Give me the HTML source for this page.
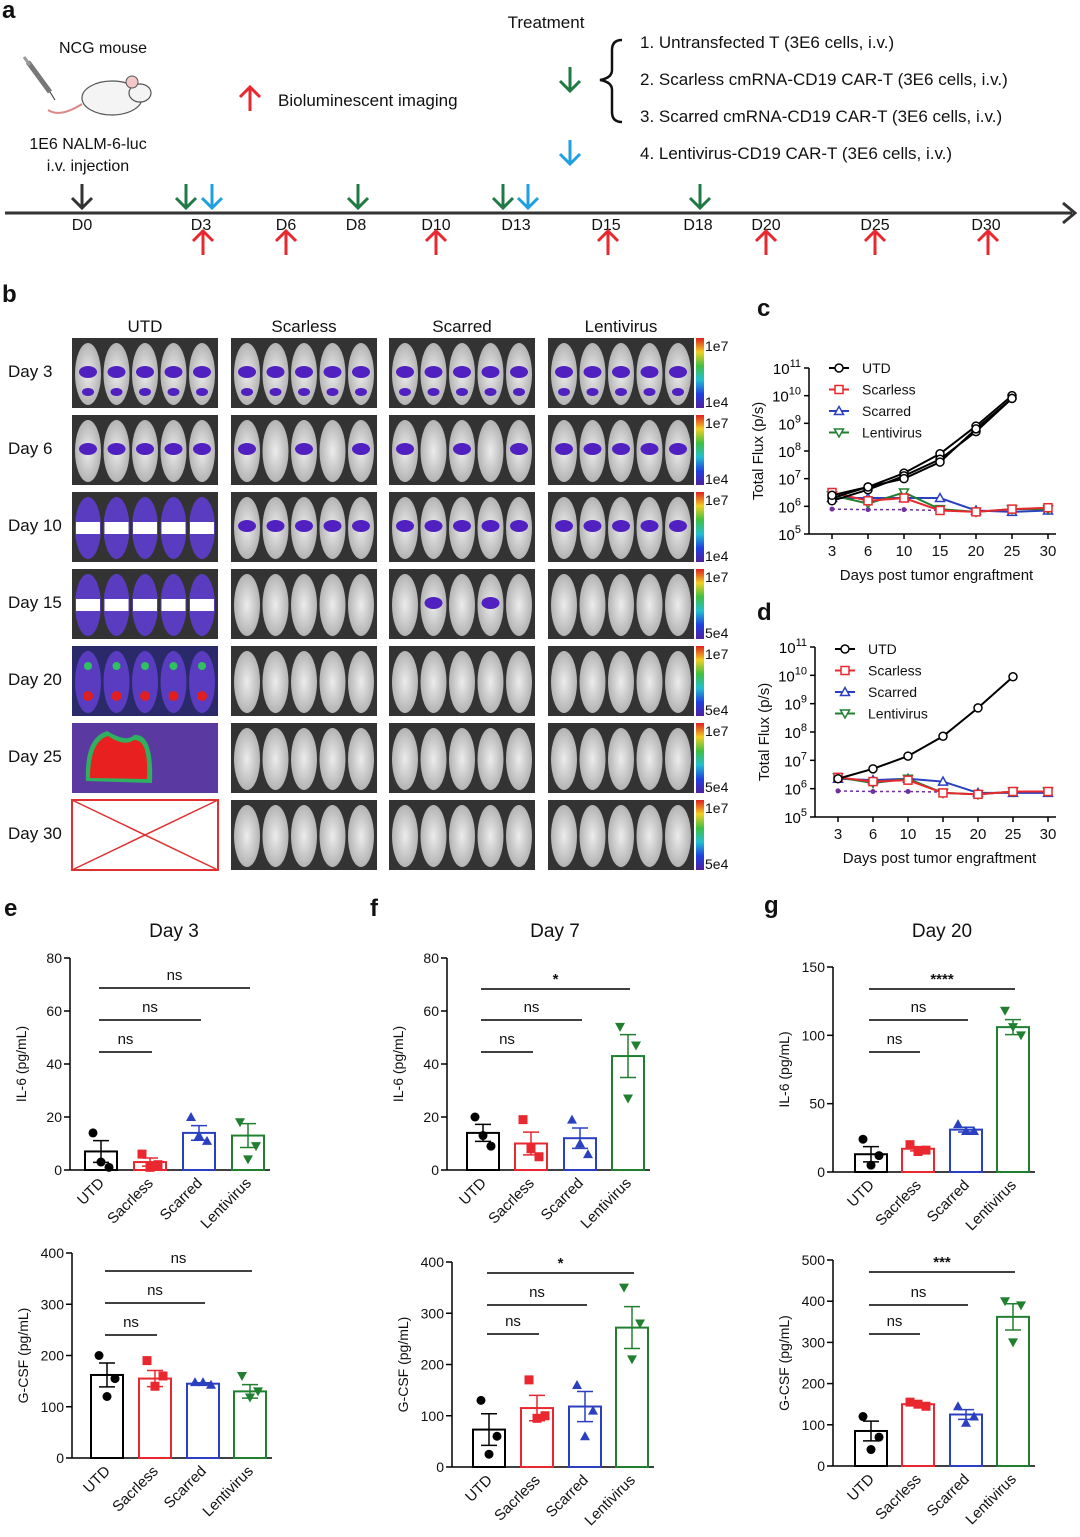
<!DOCTYPE html>
<html><head><meta charset="utf-8"><style>
html,body{margin:0;padding:0;background:#fff;}
svg{display:block;font-family:"Liberation Sans",sans-serif;}
</style></head><body>
<svg id="fig" width="1080" height="1537" viewBox="0 0 1080 1537" xmlns="http://www.w3.org/2000/svg">
<defs>
<linearGradient id="cbar" x1="0" y1="0" x2="0" y2="1">
<stop offset="0" stop-color="#e02020"/><stop offset="0.2" stop-color="#f0d020"/><stop offset="0.4" stop-color="#40c040"/><stop offset="0.6" stop-color="#20c0d0"/><stop offset="0.8" stop-color="#2040e0"/><stop offset="1" stop-color="#5020a0"/>
</linearGradient>
<radialGradient id="mouseg" cx="0.5" cy="0.5" r="0.6"><stop offset="0" stop-color="#ececec"/><stop offset="1" stop-color="#a8a8a8"/></radialGradient>
</defs>
</svg>
<script>
// ---------- data ----------
const days=["3","6","10","15","20","25","30"];
const utdC1=[6.3,6.7,7.2,7.9,8.9,10.0];
const utdC2=[6.2,6.6,7.1,7.7,8.7,9.9];
const utdC3=[6.4,6.7,7.0,7.6,8.8,9.9];
const scarlessC=[6.5,6.2,6.3,5.85,5.8,5.9,5.95];
const scarredC=[6.3,6.3,6.3,6.3,5.85,5.8,5.85];
const lentiC=[6.4,6.1,6.5,5.9,5.8,5.9,5.9];
const baseC=[5.9,5.88,5.88,5.85];
const utdD=[6.35,6.7,7.15,7.85,8.85,9.95];
const scarlessD=[6.4,6.25,6.3,5.85,5.8,5.9,5.9];
const scarredD=[6.35,6.3,6.35,6.25,5.85,5.85,5.85];
const lentiD=[6.4,6.2,6.35,5.85,5.8,5.9,5.9];
const baseD=[5.92,5.9,5.9,5.88];
const groups=["UTD","Sacrless","Scarred","Lentivirus"];
const eIL6=[7,3,14,13], eIL6pts=[[14,1,3],[6,2,1],[20,11,13],[18,9,4]];
const eGCSF=[162,155,145,130], eGCSFpts=[[200,155,120],[190,160,140],[148,143,148],[160,130,118]];
const fIL6=[14,10,12,43], fIL6pts=[[20,9,13],[19,5,8],[19,6,10],[54,47,27]];
const fGCSF=[73,115,118,272], fGCSFpts=[[130,60,25],[170,100,95],[160,110,60],[350,280,210]];
const gIL6=[13,17,31,106], gIL6pts=[[24,12,5],[20,16,15],[35,30,30],[118,100,106]];
const gGCSF=[85,150,125,362], gGCSFpts=[[120,70,40],[155,145,150],[145,120,105],[400,390,300]];

const S=document.getElementById('fig');
const NS="http://www.w3.org/2000/svg";
function mk(tag,at,parent){const e=document.createElementNS(NS,tag);for(const k in at)e.setAttribute(k,at[k]);(parent||S).appendChild(e);return e;}
function tx(x,y,s,size,anchor,extra){const e=mk('text',Object.assign({x:x,y:y,'font-size':size||16,'text-anchor':anchor||'start',fill:'#111'},extra||{}));e.textContent=s;return e;}

// ---------- panel labels ----------
[["a",2,18],["b",2,302],["c",757,316],["d",757,620],["e",4,916],["f",370,916],["g",764,913]].forEach(p=>{
 const t=tx(p[1],p[2],p[0],24,'start',{'font-weight':'bold'});
 
 
});

// ---------- panel a: timeline ----------
let t;
t=tx(103,53,"NCG mouse",16,'middle');
t=tx(88,149,"1E6 NALM-6-luc",16,'middle');
t=tx(88,171,"i.v. injection",16,'middle');
let mi=mk('g',{});
mk('ellipse',{cx:112,cy:98,rx:30,ry:17,fill:'#f4f4f4',stroke:'#555','stroke-width':1.2},mi);
mk('ellipse',{cx:140,cy:93,rx:11,ry:9,fill:'#f4f4f4',stroke:'#555','stroke-width':1.2},mi);
mk('circle',{cx:132,cy:82,r:6,fill:'#f4c8c8',stroke:'#555'},mi);
mk('path',{d:'M82 104 Q60 118 48 110',fill:'none',stroke:'#d88','stroke-width':2},mi);
mk('line',{x1:28,y1:62,x2:50,y2:92,stroke:'#777','stroke-width':5},mi);
mk('line',{x1:24,y1:57,x2:30,y2:65,stroke:'#999','stroke-width':3},mi);
mk('line',{x1:50,y1:92,x2:55,y2:100,stroke:'#333','stroke-width':1},mi);
function upArrow(x,y,col,name){const g=mk('g',{});
 mk('line',{x1:x,y1:y,x2:x,y2:y+24,stroke:col,'stroke-width':3},g);mk('path',{d:`M${x-10} ${y+10} L${x} ${y} L${x+10} ${y+10}`,fill:'none',stroke:col,'stroke-width':3},g);return g;}
function downArrow(x,y,col,name){const g=mk('g',{});
 mk('line',{x1:x,y1:y,x2:x,y2:y+24,stroke:col,'stroke-width':3},g);mk('path',{d:`M${x-10} ${y+14} L${x} ${y+24} L${x+10} ${y+14}`,fill:'none',stroke:col,'stroke-width':3},g);return g;}
upArrow(250,87,'#e8282e','imaging-arrow-legend');
t=tx(278,106,"Bioluminescent imaging",17);
t=tx(546,28,"Treatment",17,'middle');
downArrow(570,67,'#1f7a44','treatment-arrow-green');
downArrow(570,140,'#1fa0e0','treatment-arrow-blue');
let br=mk('path',{d:'M622 40 Q612 40 612 50 L612 70 Q612 78 600 80 Q612 82 612 90 L612 112 Q612 122 622 122',fill:'none',stroke:'#111','stroke-width':2.5});

["1. Untransfected T (3E6 cells, i.v.)","2. Scarless cmRNA-CD19 CAR-T (3E6 cells, i.v.)","3. Scarred cmRNA-CD19 CAR-T (3E6 cells, i.v.)","4. Lentivirus-CD19 CAR-T (3E6 cells, i.v.)"].forEach((s,i)=>{
 const e=tx(640,[48,85,122,159][i],s,17);});
let ax=mk('line',{x1:5,y1:213,x2:1072,y2:213,stroke:'#333','stroke-width':3});
let ah=mk('path',{d:'M1063 203 L1075 213 L1063 223',fill:'none',stroke:'#333','stroke-width':3});
const tlDays=["D0","D3","D6","D8","D10","D13","D15","D18","D20","D25","D30"];
const tlX=[82,201,286,356,436,516,606,698,766,875,986];
tlDays.forEach((d,i)=>{const e=tx(tlX[i],230,d,16,'middle');});
downArrow(82,184,'#333','injection-arrow');
[[186,'#1f7a44'],[212,'#1fa0e0'],[358,'#1f7a44'],[503,'#1f7a44'],[528,'#1fa0e0'],[700,'#1f7a44']].forEach((a,i)=>downArrow(a[0],184,a[1],'dose-arrow-'+i));
[203,286,436,608,766,875,988].forEach((x,i)=>upArrow(x,231,'#e8282e','imaging-arrow-'+i));

// ---------- panel b: imaging grid ----------
const colX=[72,231,389,548], colW=146;
const rowY=[338,415,492,569,646,723,800], rowH=70;
const colNames=["UTD","Scarless","Scarred","Lentivirus"];
const rowNames=["Day 3","Day 6","Day 10","Day 15","Day 20","Day 25","Day 30"];
const scaleLo=["1e4","1e4","1e4","5e4","5e4","5e4","5e4"];
colNames.forEach((c,i)=>{const e=tx(colX[i]+colW/2,332,c,17,'middle');});
rowNames.forEach((r,j)=>{const e=tx(8,rowY[j]+39,r,17);});
for(let j=0;j<7;j++){for(let i=0;i<4;i++){
 const g=mk('g',{});
 const x0=colX[i],y0=rowY[j];
 if(i===0&&j===6){mk('rect',{x:x0,y:y0,width:colW,height:rowH,fill:'#fff',stroke:'#e03030','stroke-width':2},g);
  mk('line',{x1:x0,y1:y0,x2:x0+colW,y2:y0+rowH,stroke:'#e03030','stroke-width':1.5},g);mk('line',{x1:x0+colW,y1:y0,x2:x0,y2:y0+rowH,stroke:'#e03030','stroke-width':1.5},g);continue;}
 if(i===0&&j===5){mk('rect',{x:x0,y:y0,width:colW,height:rowH,fill:'#5a3aa0'},g);
  mk('path',{d:`M${x0+14} ${y0+58} Q${x0+12} ${y0+15} ${x0+35} ${y0+8} Q${x0+55} ${y0+20} ${x0+62} ${y0+12} Q${x0+82} ${y0+10} ${x0+80} ${y0+60} Z`,fill:'#2fb060'},g);
  mk('path',{d:`M${x0+18} ${y0+55} Q${x0+18} ${y0+18} ${x0+36} ${y0+13} Q${x0+52} ${y0+24} ${x0+62} ${y0+17} Q${x0+77} ${y0+16} ${x0+75} ${y0+56} Z`,fill:'#e82020'},g);continue;}
 mk('rect',{x:x0,y:y0,width:colW,height:rowH,fill:(i===0&&j===4)?'#2a2a6a':'#333'},g);
 for(let m=0;m<5;m++){const cx=x0+16+m*28.5, cy=y0+36;
  mk('ellipse',{cx:cx,cy:cy,rx:13,ry:31,fill:(i===0&&j>=2&&j<=4)?'#5a3cc0':'url(#mouseg)'},g);
  let spot=false; if(j===0) spot=true; if(j===1&&i!==3) spot=(i===0)||m%2==0; if(j===1&&i===3) spot=true;
  if(j===2&&i>0) spot=true; if(j===3&&i===2) spot=m%2==1;
  if(j===4&&i===0){mk('circle',{cx:cx,cy:cy+14,r:5,fill:'#e02020'},g);mk('circle',{cx:cx,cy:cy-16,r:4,fill:'#30c060'},g);}
  else if(i===0&&j>=2&&j<=3){mk('rect',{x:cx-12,y:cy-6,width:24,height:12,fill:'#fff'},g);}
  else if(spot){mk('ellipse',{cx:cx,cy:cy-2,rx:9,ry:6,fill:'#5020c0'},g);if(j===0)mk('ellipse',{cx:cx,cy:cy+18,rx:6,ry:4,fill:'#5020c0'},g);}
 }
}
 const cb=mk('rect',{x:696,y:rowY[j],width:8,height:rowH,fill:'url(#cbar)'});
 let a=tx(705,rowY[j]+13,"1e7",14);
 a=tx(705,rowY[j]+69,scaleLo[j],14);
}

// ---------- panels c, d: line charts ----------
function lineChart(id,axX,yTop,yBot,x3,x30,series,base,legY){
 const yS=v=>yBot-(v-5)/6*(yBot-yTop);
 const xS=i=>x3+i*(x30-x3)/6;
 const g=mk('g',{});
 let l=mk('line',{x1:axX,y1:yTop,x2:axX,y2:yBot,stroke:'#000','stroke-width':1.5},g);
 l=mk('line',{x1:axX,y1:yBot,x2:x30+8,y2:yBot,stroke:'#000','stroke-width':1.5},g);
 for(let p=5;p<=11;p++){const y=yS(p);mk('line',{x1:axX-5,y1:y,x2:axX,y2:y,stroke:'#000','stroke-width':1.5},g);
  const e=mk('text',{x:axX-8,y:y+6,'font-size':15,'text-anchor':'end'},g);
  e.innerHTML='10<tspan dy="-7" font-size="11">'+p+'</tspan>';}
 days.forEach((d,i)=>{mk('line',{x1:xS(i),y1:yBot,x2:xS(i),y2:yBot+5,stroke:'#000','stroke-width':1.5},g);
  const e=tx(xS(i),yBot+22,d,15,'middle');});
 let e=tx((axX+x30)/2+8,yBot+46,"Days post tumor engraftment",15,'middle');
 e=tx(0,0,"Total Flux (p/s)",15,'middle',{transform:`translate(${axX-46},${(yTop+yBot)/2}) rotate(-90)`});
 const bp=base.map((v,i)=>xS(i)+','+yS(v)).join(' ');
 const bl=mk('polyline',{points:bp,fill:'none',stroke:'#7030a0','stroke-width':1.5,'stroke-dasharray':'3,3'},g);
 base.forEach((v,i)=>{const c=mk('circle',{cx:xS(i),cy:yS(v),r:2.5,fill:'#7030a0'},g);});
 series.forEach(s=>{const pl=mk('polyline',{points:s.v.map((v,i)=>xS(i)+','+yS(v)).join(' '),fill:'none',stroke:s.c,'stroke-width':2},g);
  
  s.v.forEach((v,i)=>{let m;const x=xS(i),y=yS(v);
   if(s.m==='o')m=mk('circle',{cx:x,cy:y,r:4,fill:'#fff',stroke:s.c,'stroke-width':1.5},g);
   else if(s.m==='s')m=mk('rect',{x:x-4,y:y-4,width:8,height:8,fill:'#fff',stroke:s.c,'stroke-width':1.5},g);
   else if(s.m==='t')m=mk('path',{d:`M${x-4.5} ${y+3.5} L${x} ${y-4.5} L${x+4.5} ${y+3.5} Z`,fill:'#fff',stroke:s.c,'stroke-width':1.5},g);
   else m=mk('path',{d:`M${x-4.5} ${y-3.5} L${x} ${y+4.5} L${x+4.5} ${y-3.5} Z`,fill:'#fff',stroke:s.c,'stroke-width':1.5},g);
   });
 });
 [["UTD",'#000','o'],["Scarless",'#e8282e','s'],["Scarred",'#2a40c0','t'],["Lentivirus",'#208030','v']].forEach((L,i)=>{
  const y=legY+i*21.5, lx=axX+20;
  const lg=mk('g',{},g);
  mk('line',{x1:lx,y1:y,x2:lx+20,y2:y,stroke:L[1],'stroke-width':2},lg);
  if(L[2]==='o')mk('circle',{cx:lx+10,cy:y,r:4,fill:'#fff',stroke:L[1],'stroke-width':1.5},lg);
  else if(L[2]==='s')mk('rect',{x:lx+6,y:y-4,width:8,height:8,fill:'#fff',stroke:L[1],'stroke-width':1.5},lg);
  else if(L[2]==='t')mk('path',{d:`M${lx+5.5} ${y+3.5} L${lx+10} ${y-4.5} L${lx+14.5} ${y+3.5} Z`,fill:'#fff',stroke:L[1],'stroke-width':1.5},lg);
  else mk('path',{d:`M${lx+5.5} ${y-3.5} L${lx+10} ${y+4.5} L${lx+14.5} ${y-3.5} Z`,fill:'#fff',stroke:L[1],'stroke-width':1.5},lg);
  const tt=mk('text',{x:lx+33,y:y+5,'font-size':14,fill:'#111'},lg);tt.textContent=L[0];
 });
}
lineChart('c',809,368,534,832,1048,[
 {n:'scarred',c:'#2a40c0',m:'t',v:scarredC},{n:'lentivirus',c:'#208030',m:'v',v:lentiC},{n:'scarless',c:'#e8282e',m:'s',v:scarlessC},
 {n:'utd-1',c:'#000',m:'o',v:utdC1},{n:'utd-2',c:'#000',m:'o',v:utdC2},{n:'utd-3',c:'#000',m:'o',v:utdC3}],baseC,368);
lineChart('d',815,647,817,838,1048,[
 {n:'scarred',c:'#2a40c0',m:'t',v:scarredD},{n:'lentivirus',c:'#208030',m:'v',v:lentiD},{n:'scarless',c:'#e8282e',m:'s',v:scarlessD},
 {n:'utd',c:'#000',m:'o',v:utdD}],baseD,649);

// ---------- panels e, f, g: bar charts ----------
const cols=['#000','#e8282e','#2a40c0','#208030'];
function barChart(id,axX,y0,yTop,maxV,ticks,centers,vals,pts,yTitle,title,sigs){
 const yS=v=>y0-v/maxV*(y0-yTop);
 const g=mk('g',{});
 if(title){const e=tx(centers[1]+24,937,title,19,'middle');}
 let l=mk('line',{x1:axX,y1:yTop,x2:axX,y2:y0,stroke:'#000','stroke-width':1.5},g);
 l=mk('line',{x1:axX,y1:y0,x2:centers[3]+22,y2:y0,stroke:'#000','stroke-width':1.5},g);
 ticks.forEach(v=>{mk('line',{x1:axX-6,y1:yS(v),x2:axX,y2:yS(v),stroke:'#000','stroke-width':1.5},g);
  const e=tx(axX-8,yS(v)+5,String(v),14,'end');});
 const e=tx(0,0,yTitle,14,'middle',{transform:`translate(${axX-44},${(yTop+y0)/2}) rotate(-90)`});
 vals.forEach((v,i)=>{const c=centers[i];
  const b=mk('rect',{x:c-16,y:yS(v),width:32,height:y0-yS(v),fill:'none',stroke:cols[i],'stroke-width':2},g);
  const p=pts[i],mean=v,sd=Math.sqrt(p.reduce((a,q)=>a+(q-mean)*(q-mean),0)/2)/Math.sqrt(3);
  const eb=mk('path',{d:`M${c} ${yS(mean)} L${c} ${yS(mean+sd)} M${c-8} ${yS(mean+sd)} L${c+8} ${yS(mean+sd)} M${c} ${yS(mean)} L${c} ${yS(Math.max(0,mean-sd))} M${c-8} ${yS(Math.max(0,mean-sd))} L${c+8} ${yS(Math.max(0,mean-sd))}`,stroke:cols[i],'stroke-width':1.5,fill:'none'},g);
  
  p.forEach((q,k)=>{const y=yS(q);const xx=c+[-8,8,0][k];let m;
   if(i===0)m=mk('circle',{cx:xx,cy:y,r:4.5,fill:cols[i]},g);
   else if(i===1)m=mk('rect',{x:xx-4.5,y:y-4.5,width:9,height:9,fill:cols[i]},g);
   else if(i===2)m=mk('path',{d:`M${xx-5} ${y+4} L${xx} ${y-5} L${xx+5} ${y+4} Z`,fill:cols[i]},g);
   else m=mk('path',{d:`M${xx-5} ${y-4} L${xx} ${y+5} L${xx+5} ${y-4} Z`,fill:cols[i]},g);
   });
  const lb=tx(0,0,groups[i],15,'end',{transform:`translate(${c+4},${y0+14}) rotate(-45)`});
 });
 sigs.forEach((s,k)=>{const y=s[1];
  const ln=mk('line',{x1:centers[0]-2,y1:y,x2:centers[s[0]]+2,y2:y,stroke:'#000','stroke-width':1.5},g);
  const st=tx((centers[0]+centers[s[0]])/2,y-(s[2]==='ns'?8:5),s[2],15,'middle',{'font-weight':s[2]==='ns'?'normal':'bold'});});
}
barChart('e-il6',70,1170,958,80,[0,20,40,60,80],[101,150,199,248],eIL6,eIL6pts,"IL-6 (pg/mL)","Day 3",[[3,988,'ns'],[2,1020,'ns'],[1,1052,'ns']]);
barChart('e-gcsf',72,1458,1253,400,[0,100,200,300,400],[107,155,203,250],eGCSF,eGCSFpts,"G-CSF (pg/mL)","",[[3,1271,'ns'],[2,1303,'ns'],[1,1335,'ns']]);
barChart('f-il6',447,1170,958,80,[0,20,40,60,80],[483,531,580,628],fIL6,fIL6pts,"IL-6 (pg/mL)","Day 7",[[3,989,'*'],[2,1020,'ns'],[1,1052,'ns']]);
barChart('f-gcsf',452,1467,1262,400,[0,100,200,300,400],[489,537,585,632],fGCSF,fGCSFpts,"G-CSF (pg/mL)","",[[3,1273,'*'],[2,1305,'ns'],[1,1334,'ns']]);
barChart('g-il6',833,1172,967,150,[0,50,100,150],[871,918,966,1013],gIL6,gIL6pts,"IL-6 (pg/mL)","Day 20",[[3,989,'****'],[2,1020,'ns'],[1,1052,'ns']]);
barChart('g-gcsf',833,1466,1260,500,[0,100,200,300,400,500],[871,918,966,1013],gGCSF,gGCSFpts,"G-CSF (pg/mL)","",[[3,1272,'***'],[2,1305,'ns'],[1,1334,'ns']]);
</script>
</body></html>
